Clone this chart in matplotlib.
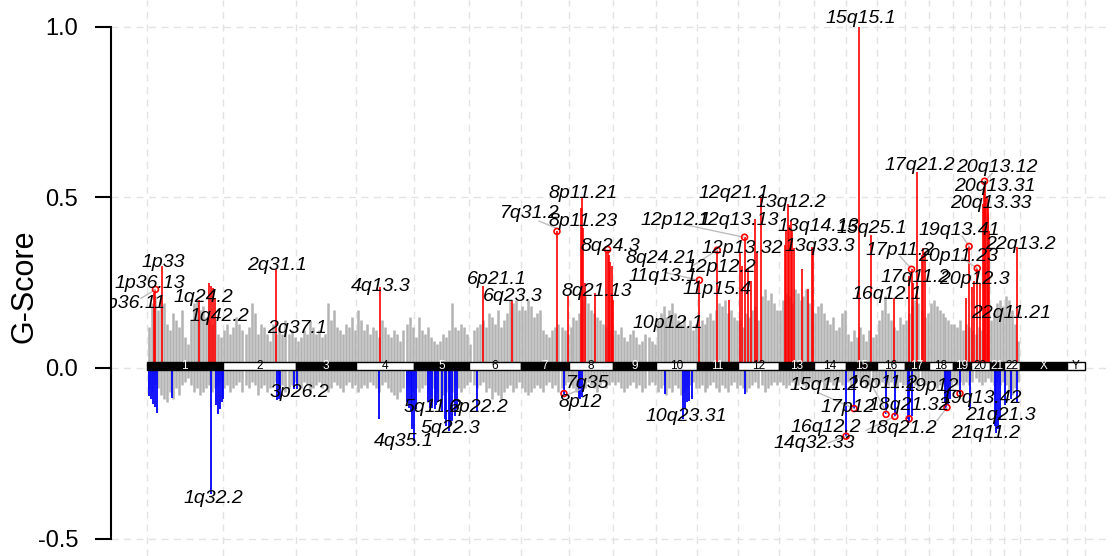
import numpy as np
import matplotlib.pyplot as plt
from matplotlib.patches import Rectangle

plt.rcParams['font.family'] = ['Liberation Sans', 'DejaVu Sans']

# chromosome layout (hg19, Mb)
chrom_names = [str(i) for i in range(1, 23)] + ['X', 'Y']
chrom_len = [249.25, 243.20, 198.02, 191.15, 180.92, 171.12, 159.14, 146.36,
             141.21, 135.53, 135.01, 133.85, 115.17, 107.35, 102.53, 90.35,
             81.20, 78.08, 59.13, 63.03, 48.13, 51.30, 155.27, 59.37]

# background G-scores (x100), binned per chromosome (no data on X/Y)
gray_bins = [25, 24, 20, 19, 18, 17, 16, 15, 14, 14, 14, 13, 12, 11, 10, 9, 8, 8, 6, 6, 5, 5]
gray_amp = [12, 19, 21, 17, 20, 19, 13, 11, 16, 14, 12, 17, 9, 7, 14, 19, 20, 17, 18, 15, 14, 13, 14, 10, 9,
            11, 13, 10, 12, 15, 13, 11, 10, 12, 19, 16, 10, 13, 12, 10, 8, 13, 10, 12, 10, 14, 10, 11, 9,
            8, 9, 11, 10, 14, 12, 10, 11, 9, 10, 19, 14, 17, 12, 11, 10, 13, 12, 15, 11,
            17, 14, 11, 13, 10, 12, 11, 9, 14, 12, 10, 9, 11, 10, 8, 11, 13, 15, 12,
            9, 15, 11, 10, 12, 9, 8, 7, 8, 10, 9, 11, 19, 12, 11, 13, 12, 10,
            7, 11, 12, 13, 14, 12, 16, 15, 13, 17, 12, 14, 16, 20, 19, 20, 17,
            18, 17, 20, 18, 15, 16, 17, 11, 10, 9, 11, 12, 13, 12, 11, 10,
            12, 15, 14, 16, 20, 21, 19, 17, 16, 15, 14, 13, 12, 11, 10,
            11, 10, 12, 9, 8, 10, 11, 9, 7, 8, 10, 9, 8, 7,
            14, 16, 18, 15, 17, 19, 16, 14, 13, 15, 12, 14, 11, 13,
            12, 14, 13, 15, 16, 14, 17, 19, 18, 20, 16, 17, 15, 14,
            14, 12, 16, 15, 17, 18, 14, 21, 23, 20, 22, 19, 17,
            17, 20, 22, 21, 19, 23, 22, 20, 21, 23, 19, 18,
            16, 18, 19, 16, 14, 13, 15, 11, 12, 16, 17,
            10, 8, 11, 9, 12, 10, 8, 11, 9, 10,
            14, 17, 21, 16, 14, 12, 11, 15, 13,
            14, 16, 18, 20, 19, 17, 15, 16,
            19, 20, 18, 17, 16, 15, 14, 13,
            13, 12, 14, 11, 13, 12,
            11, 10, 12, 11, 10, 11,
            14, 16, 19, 20, 18,
            21, 20, 17, 13, 8]
gray_del = [-6, -7, -5, -6, -8, -9, -10, -7, -9, -6, -8, -5, -4, -3, -5, -7, -6, -8, -7, -6, -5, -7, -6, -5, -4,
            -6, -5, -7, -6, -5, -4, -7, -5, -6, -4, -5, -8, -6, -5, -7, -6, -5, -4, -6, -5, -7, -6, -5, -4,
            -5, -6, -4, -5, -7, -6, -5, -4, -6, -5, -7, -6, -4, -5, -6, -7, -5, -4, -6, -5,
            -7, -6, -5, -6, -4, -5, -6, -7, -5, -4, -6, -7, -8, -9, -7, -6, -5, -6, -7,
            -6, -7, -6, -5, -7, -8, -6, -7, -9, -8, -7, -6, -7, -5, -6, -7, -6, -5,
            -4, -5, -6, -5, -4, -7, -6, -9, -7, -8, -9, -7, -6, -5, -7, -6, -4,
            -6, -7, -8, -7, -6, -5, -6, -7, -5, -4, -6, -5, -7, -6, -5, -4,
            -5, -6, -7, -6, -5, -6, -4, -5, -6, -7, -5, -4, -6, -5, -4,
            -5, -4, -6, -7, -6, -5, -4, -6, -5, -7, -6, -5, -4, -5,
            -7, -6, -5, -8, -6, -7, -5, -6, -8, -7, -6, -5, -4, -6,
            -6, -5, -7, -6, -5, -4, -6, -7, -5, -6, -7, -5, -4, -6,
            -5, -6, -7, -6, -5, -4, -6, -5, -7, -6, -5, -4, -5,
            -4, -5, -6, -5, -4, -6, -5, -4, -5, -6, -4, -5,
            -4, -5, -4, -6, -5, -4, -5, -6, -4, -5, -6,
            -4, -5, -4, -3, -5, -4, -6, -5, -4, -5,
            -5, -4, -6, -5, -4, -5, -6, -4, -5,
            -5, -6, -4, -5, -6, -4, -5, -6,
            -4, -5, -6, -5, -4, -5, -6, -5,
            -4, -5, -4, -5, -4, -5,
            -4, -3, -4, -5, -4, -3,
            -4, -5, -4, -5, -4,
            -5, -7, -8, -6, -4]

# significant amplification peaks (genome position Mb, G-score)
amp_pos = [21.5, 28, 50.5, 172.6, 206, 212, 219, 225, 426, 769, 1108, 1204, 1353, 1388,
           1432, 1436, 1439, 1444, 1478, 1516, 1520, 1525, 1529, 1533, 1536, 1538,
           1823, 1882, 1922, 1957, 1965, 1972, 1982, 1993, 2005, 2013, 2025,
           2105, 2110, 2115, 2120, 2125, 2130, 2135, 2162, 2181, 2196, 2199,
           2351, 2389, 2466, 2516, 2523, 2528, 2542, 2556, 2561, 2567,
           2703, 2713, 2721, 2730, 2740, 2749, 2758, 2761, 2764, 2767, 2771, 2774, 2777, 2780, 2872]
amp_g = [0.22, 0.23, 0.30, 0.20, 0.248, 0.24, 0.235, 0.205, 0.29, 0.238, 0.24, 0.195, 0.40, 0.21,
         0.47, 0.50, 0.41, 0.25, 0.22, 0.34, 0.347, 0.33, 0.31, 0.30, 0.22, 0.20,
         0.257, 0.345, 0.20, 0.34, 0.30, 0.383, 0.29, 0.255, 0.437, 0.34, 0.50,
         0.36, 0.40, 0.48, 0.42, 0.43, 0.40, 0.35, 0.29, 0.23, 0.353, 0.35,
         1.0, 0.39, 0.206, 0.27, 0.289, 0.25, 0.573, 0.33, 0.35, 0.34,
         0.206, 0.356, 0.236, 0.256, 0.292, 0.245, 0.48, 0.53, 0.547, 0.50, 0.505, 0.48, 0.45, 0.40, 0.353]

# significant deletion peaks
del_pos = [7.6, 13, 20, 26, 32, 83.5, 210, 228, 234, 241, 247.5, 252, 428, 434, 439, 485, 496, 766,
           857, 863, 870, 874.5, 879.5, 887, 928, 935.5, 942, 949, 955, 961,
           974.5, 982, 988, 995, 1001.5, 1008, 1015, 1022, 1090, 1376, 1427, 1430.5, 1434.5,
           1709, 1770, 1775, 1782, 1789, 1797.5, 1974, 2307, 2333, 2439, 2468, 2512, 2515, 2523,
           2633, 2638, 2643, 2650, 2683, 2716, 2798, 2803, 2808, 2815, 2831, 2850, 2872]
del_g = [-0.082, -0.09, -0.106, -0.115, -0.131, -0.087, -0.37, -0.11, -0.135, -0.12, -0.10, -0.09,
         -0.094, -0.09, -0.085, -0.062, -0.062, -0.15,
         -0.10, -0.116, -0.13, -0.18, -0.214, -0.12, -0.10, -0.116, -0.116, -0.12, -0.11, -0.10,
         -0.13, -0.15, -0.17, -0.185, -0.17, -0.155, -0.14, -0.12, -0.126, -0.075, -0.088, -0.09, -0.085,
         -0.077, -0.15, -0.12, -0.10, -0.097, -0.09, -0.077, -0.20, -0.119, -0.136, -0.142, -0.149, -0.16, -0.14,
         -0.10, -0.116, -0.11, -0.09, -0.075, -0.116, -0.17, -0.19, -0.18, -0.15, -0.11, -0.09, -0.10]

# cytoband labels
amp_labels = ['1p33', '1p36.13', '1p36.11', '1q24.2', '1q42.2', '2q31.1', '2q37.1', '4q13.3',
              '6p21.1', '6q23.3', '7q31.2', '8p11.21', '8p11.23', '8q24.3', '8q24.21', '8q21.13',
              '11q13.1', '12p12.1', '12q13.13', '12q21.1', '13q12.2', '12p13.32', '12p12.2',
              '11p15.4', '10p12.1', '13q14.13', '15q25.1', '13q33.3', '15q15.1', '17p11.2',
              '17q21.2', '17q11.2', '16q12.1', '20q13.12', '20q13.31', '20q13.33', '19q13.41',
              '20p11.23', '22q13.2', '20p12.3', '22q11.21']
amp_lab_x = [53, 10, -53, 185, 238, 429, 495, 772, 1155, 1208, 1264, 1439, 1439, 1528, 1696, 1485,
             1703, 1746, 1950, 1937, 2125, 1963, 1894, 1881, 1719, 2214, 2392, 2221, 2356, 2485,
             2551, 2534, 2442, 2805, 2798, 2785, 2680, 2676, 2884, 2732, 2851]
amp_lab_y = [0.309, 0.248, 0.189, 0.207, 0.151, 0.30, 0.116, 0.239, 0.26, 0.21, 0.453, 0.512, 0.43,
             0.356, 0.321, 0.224, 0.268, 0.433, 0.433, 0.512, 0.485, 0.35, 0.295, 0.23, 0.13, 0.415,
             0.409, 0.356, 1.025, 0.345, 0.594, 0.265, 0.216, 0.587, 0.532, 0.482, 0.403, 0.327,
             0.362, 0.26, 0.16]
del_labels = ['1q32.2', '3p26.2', '4q35.1', '5q11.2', '6p22.2', '5q22.3', '7q35', '8p12', '10q23.31',
              '15q11.2', '16p11.2', '19p12', '17p12', '18q21.32', '19q13.42', '16q12.2', '18q21.2',
              '14q32.33', '21q21.3', '21q11.2']
del_lab_x = [218, 502, 848, 944, 1096, 1003, 1455, 1429, 1779, 2234, 2429, 2590, 2313, 2515, 2752,
             2241, 2492, 2201, 2815, 2769]
del_lab_y = [-0.383, -0.072, -0.216, -0.116, -0.116, -0.177, -0.045, -0.101, -0.142, -0.051, -0.045,
             -0.054, -0.116, -0.11, -0.089, -0.174, -0.177, -0.221, -0.139, -0.192]

# peaks whose label was moved away
circle_x = [28, 1353, 1520, 1823, 1882, 1972, 2523, 2764, 2713, 2740,
            1376, 2307, 2333, 2439, 2468, 2515, 2640, 2683]
circle_y = [0.23, 0.40, 0.347, 0.257, 0.345, 0.383, 0.289, 0.547, 0.356, 0.292,
            -0.075, -0.20, -0.119, -0.136, -0.142, -0.149, -0.116, -0.075]
leaders = [(-20, 0.204, 28, 0.23), (1294, 0.43, 1350, 0.41), (1769, 0.421, 1969, 0.383),
           (1802, 0.30, 1881, 0.345), (1709, 0.28, 1820, 0.257), (2485, 0.327, 2521, 0.292),
           (2789, 0.57, 2764, 0.547), (2690, 0.386, 2713, 0.356), (2690, 0.321, 2740, 0.292),
           (1389, -0.078, 1429, -0.063), (2214, -0.072, 2333, -0.119), (2244, -0.221, 2307, -0.20),
           (2396, -0.057, 2442, -0.133), (2607, -0.154, 2640, -0.116), (2373, -0.183, 2468, -0.142)]

chrom_len = np.array(chrom_len)
ends = np.cumsum(chrom_len)
starts = ends - chrom_len

fig = plt.figure(figsize=(11.12, 5.56), dpi=100)
ax = fig.add_axes([111 / 1112, 0, (1110 - 111) / 1112, 1])
ax.set_xlim(-118.8, 3178)
ax.set_ylim(-0.551, 1.078)

grid_kw = dict(color='#e3e3e3', lw=1, ls=(0, (5, 4)), zorder=0)
for y in [-0.5, 0, 0.5, 1.0]:
    ax.axhline(y, **grid_kw)
for x in np.concatenate([[0], ends]):
    ax.axvline(x, **grid_kw)

# background
gx = []
for s, L, n in zip(starts, chrom_len, gray_bins):
    gx.extend(s + (np.arange(n) + 0.5) * L / n)
ax.vlines(gx, 0, np.array(gray_amp) / 100, color='#b3b3b3', lw=1.8, zorder=1)
ax.vlines(gx, 0, np.array(gray_del) / 100, color='#b3b3b3', lw=1.8, zorder=1)

ax.vlines(amp_pos, 0, amp_g, color='red', lw=1.2, zorder=2)
ax.vlines(del_pos, 0, del_g, color='blue', lw=1.3, zorder=2)

# chromosome ideogram
for i, (name, s, L) in enumerate(zip(chrom_names, starts, chrom_len)):
    dark = i % 2 == 0
    ax.add_patch(Rectangle((s, -0.005), L, 0.021, facecolor='black' if dark else 'white',
                           edgecolor='black', lw=1, zorder=5))
    ax.text(s + L / 2, 0.0055, name, color='white' if dark else 'black', fontsize=8.5,
            ha='center', va='center', zorder=6)

for x0, y0, x1, y1 in leaders:
    ax.plot([x0, x1], [y0, y1], color='#bdbdbd', lw=1, zorder=3)
ax.scatter(circle_x, circle_y, s=18, facecolors='none', edgecolors='red', linewidths=1.2, zorder=4)

for t, x, y in zip(amp_labels + del_labels, amp_lab_x + del_lab_x, amp_lab_y + del_lab_y):
    ax.text(x, y, t, fontsize=14, fontstyle='italic', ha='center', va='center',
            zorder=7, clip_on=True)

for sp in ['top', 'right', 'bottom']:
    ax.spines[sp].set_visible(False)
ax.spines['left'].set_bounds(-0.5, 1.0)
ax.spines['left'].set_linewidth(1.5)
ax.set_xticks([])
ax.set_yticks([-0.5, 0, 0.5, 1.0])
ax.set_yticklabels(['-0.5', '0.0', '0.5', '1.0'])
ax.tick_params(axis='y', length=11.5, width=1.5, labelsize=17, pad=12)
fig.text(25 / 1112, 1 - 286 / 556, 'G-Score', rotation=90, fontsize=22, ha='center', va='center')

fig.savefig('out.png', dpi=100)
